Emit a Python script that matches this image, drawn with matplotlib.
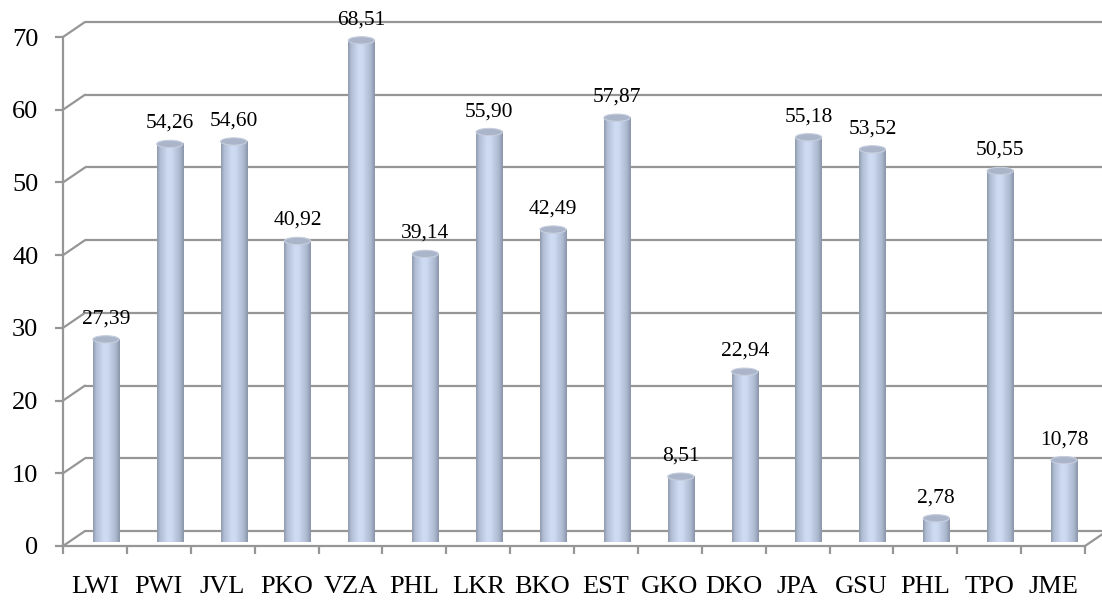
import matplotlib
matplotlib.use('Agg')
import matplotlib.pyplot as plt
import matplotlib.transforms as mtransforms
from matplotlib.patches import Ellipse, Rectangle
from matplotlib.path import Path
from matplotlib.colors import LinearSegmentedColormap
import numpy as np

categories = ['LWI', 'PWI', 'JVL', 'PKO', 'VZA', 'PHL', 'LKR', 'BKO',
              'EST', 'GKO', 'DKO', 'JPA', 'GSU', 'PHL', 'TPO', 'JME']
values = [27.39, 54.26, 54.60, 40.92, 68.51, 39.14, 55.90, 42.49,
          57.87, 8.51, 22.94, 55.18, 53.52, 2.78, 50.55, 10.78]
value_labels = ['27,39', '54,26', '54,60', '40,92', '68,51', '39,14', '55,90', '42,49',
                '57,87', '8,51', '22,94', '55,18', '53,52', '2,78', '50,55', '10,78']
yticks = [0, 10, 20, 30, 40, 50, 60, 70]

W, H, DPI = 1102, 600, 100
fig = plt.figure(figsize=(W / DPI, H / DPI), dpi=DPI)
ax = fig.add_axes([63 / W, 54 / H, 1022 / W, 509 / H])
ax.set_xlim(-0.5, len(categories) - 0.5)
ax.set_ylim(0, 70)
ax.set_facecolor('none')

gc = '#969696'
glw = 1.6
serif = ['Liberation Serif', 'DejaVu Serif']

# depth offsets
DX, DY = 22, 15
back = ax.transData + mtransforms.ScaledTranslation(DX / DPI, DY / DPI, fig.dpi_scale_trans)
mid = ax.transData + mtransforms.ScaledTranslation(DX / 2 / DPI, DY / 2 / DPI, fig.dpi_scale_trans)

# spines
for s in ['top', 'right']:
    ax.spines[s].set_visible(False)
for s in ['left', 'bottom']:
    ax.spines[s].set_color(gc)
    ax.spines[s].set_linewidth(glw)

x0, x1 = -0.5, len(categories) - 0.5
# back wall gridlines and left wall diagonals
for y in yticks:
    ax.plot([x0, x1 + 1], [y, y], transform=back, color=gc, lw=glw, clip_on=False,
            solid_capstyle='butt', zorder=1)
    ax.annotate('', xy=(x0, y), xytext=(DX * 72 / DPI, DY * 72 / DPI),
                textcoords='offset points',
                arrowprops=dict(arrowstyle='-', color=gc, lw=glw, shrinkA=0, shrinkB=0),
                annotation_clip=False, zorder=1)
# right floor diagonal
ax.annotate('', xy=(x1, 0), xytext=(DX * 72 / DPI, DY * 72 / DPI),
            textcoords='offset points',
            arrowprops=dict(arrowstyle='-', color=gc, lw=glw, shrinkA=0, shrinkB=0),
            annotation_clip=False, zorder=1)

# ticks
ax.set_yticks(yticks)
ax.set_yticklabels([str(t) for t in yticks], fontsize=19, family=serif)
ax.tick_params(axis='y', length=5.8, width=glw, color=gc, pad=12, direction='out')
xs = np.arange(len(categories))
ax.set_xticks(xs)
ax.set_xticklabels(categories, fontsize=19, family=serif)
ax.set_xticks(np.arange(len(categories) + 1) - 0.5, minor=True)
ax.tick_params(axis='x', which='major', length=0, pad=21.5)
ax.tick_params(axis='x', which='minor', length=5.8, width=glw, color=gc, direction='out')

# cylinders
bw = 0.41
eh = 1.0
cmap = LinearSegmentedColormap.from_list('cyl', [
    (0.0, (0.56, 0.60, 0.68)),
    (0.12, (0.69, 0.74, 0.83)),
    (0.40, (0.81, 0.86, 0.95)),
    (0.55, (0.80, 0.85, 0.94)),
    (0.85, (0.67, 0.72, 0.81)),
    (1.0, (0.54, 0.58, 0.66)),
])
grad = np.linspace(0, 1, 256).reshape(1, -1)

for i, (v, lab) in enumerate(zip(values, value_labels)):
    rect = Rectangle((i - bw / 2, 0), bw, v)
    ell_b = Ellipse((i, 0), bw, eh)
    p1 = rect.get_patch_transform().transform_path(rect.get_path())
    p2 = ell_b.get_patch_transform().transform_path(ell_b.get_path())
    clip = Path.make_compound_path(p1, p2)
    im = ax.imshow(grad, cmap=cmap, aspect='auto', interpolation='bilinear',
                   extent=[i - bw / 2, i + bw / 2, -eh / 2, v], transform=mid,
                   zorder=3, clip_on=False)
    im.set_clip_path(clip, mid)
    top = Ellipse((i, v), bw, eh, transform=mid, facecolor='#abb5c9',
                  edgecolor='#c6cede', lw=0.8, zorder=4, clip_on=False)
    ax.add_patch(top)
    ax.annotate(lab, xy=(i, v), xycoords=mid, xytext=(0, 11.5), textcoords='offset points',
                ha='center', va='baseline', fontsize=15.5, family=serif,
                annotation_clip=False, zorder=5)

ax.set_xlim(-0.5, len(categories) - 0.5)
ax.set_ylim(0, 70)

fig.savefig('out.png', dpi=DPI)
